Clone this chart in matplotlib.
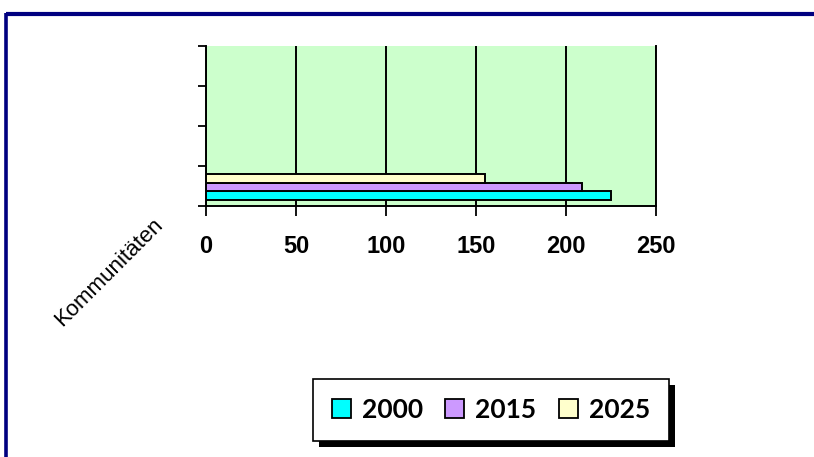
import matplotlib
matplotlib.use("Agg")
import matplotlib.pyplot as plt
from matplotlib.patches import Rectangle
from matplotlib.lines import Line2D

categories = ["Kommunitäten", "", "", ""]
series_names = ["2000", "2015", "2025"]
values = [225, 209, 155]
colors = ["#00FFFF", "#CC99FF", "#FFFFCC"]
xticks = [0, 50, 100, 150, 200, 250]

W, H = 814, 457
fig = plt.figure(figsize=(W / 100, H / 100), dpi=100)
fig.patch.set_facecolor("white")

# frame lines (navy) at top and left
fig.add_artist(Line2D([5.5 / W, 1.0], [1 - 14 / H, 1 - 14 / H], transform=fig.transFigure,
                      color="#000080", lw=3, solid_capstyle="butt"))
fig.add_artist(Line2D([5.5 / W, 5.5 / W], [1 - 12.5 / H, 0.0], transform=fig.transFigure,
                      color="#000080", lw=2.6, solid_capstyle="butt"))

ax = fig.add_axes([206 / W, 1 - 206 / H, 450 / W, 160 / H])
ax.set_facecolor("#CCFFCC")

bar_h = 0.222
for i, (name, v, c) in enumerate(zip(series_names, values, colors)):
    ax.barh(0.475 + (i - 1) * bar_h, v, height=bar_h, color=c, edgecolor="black",
            linewidth=1.4, label=name, zorder=3)

ax.set_xlim(0, 250)
ax.set_ylim(0, len(categories))
ax.set_xticks(xticks)
ax.set_xticklabels([str(t) for t in xticks], fontsize=17, fontweight="bold",
                   family="Liberation Sans")
ax.set_yticks(range(len(categories) + 1))
ax.set_yticklabels([])
ax.tick_params(axis="x", length=7, width=1.3, pad=14, direction="out")
ax.tick_params(axis="y", length=6, width=1.3, direction="out")
ax.xaxis.grid(True, color="black", linewidth=1.4, zorder=1)
ax.set_axisbelow(True)
ax.spines["top"].set_visible(False)
for s in ["left", "bottom", "right"]:
    ax.spines[s].set_linewidth(1.4)

# rotated category label
fig.text(152 / W, 1 - 214 / H, categories[0], rotation=45, rotation_mode="anchor",
         ha="right", va="top", fontsize=16, family="Liberation Sans")

handles = [Rectangle((0, 0), 1, 1, facecolor=c, edgecolor="black", linewidth=1.3) for c in colors]
leg = fig.legend(handles, series_names, loc="center", bbox_to_anchor=(491 / W, 1 - 410 / H),
                 ncol=3, frameon=True, fancybox=False, shadow=False, framealpha=1,
                 facecolor="white", edgecolor="black",
                 prop={"family": "Lato", "weight": "bold", "size": 19},
                 handlelength=0.72, handleheight=0.72, handletextpad=0.42,
                 columnspacing=0.85, borderpad=0.72)
leg.get_frame().set_linewidth(1.2)
leg.set_zorder(5)

fig.canvas.draw()
bb = leg.get_window_extent()
fig.add_artist(Rectangle((bb.x0 + 6, bb.y0 - 6), bb.width, bb.height, transform=None,
                         facecolor="black", edgecolor="none", zorder=4))

fig.savefig("out.png", dpi=100)
